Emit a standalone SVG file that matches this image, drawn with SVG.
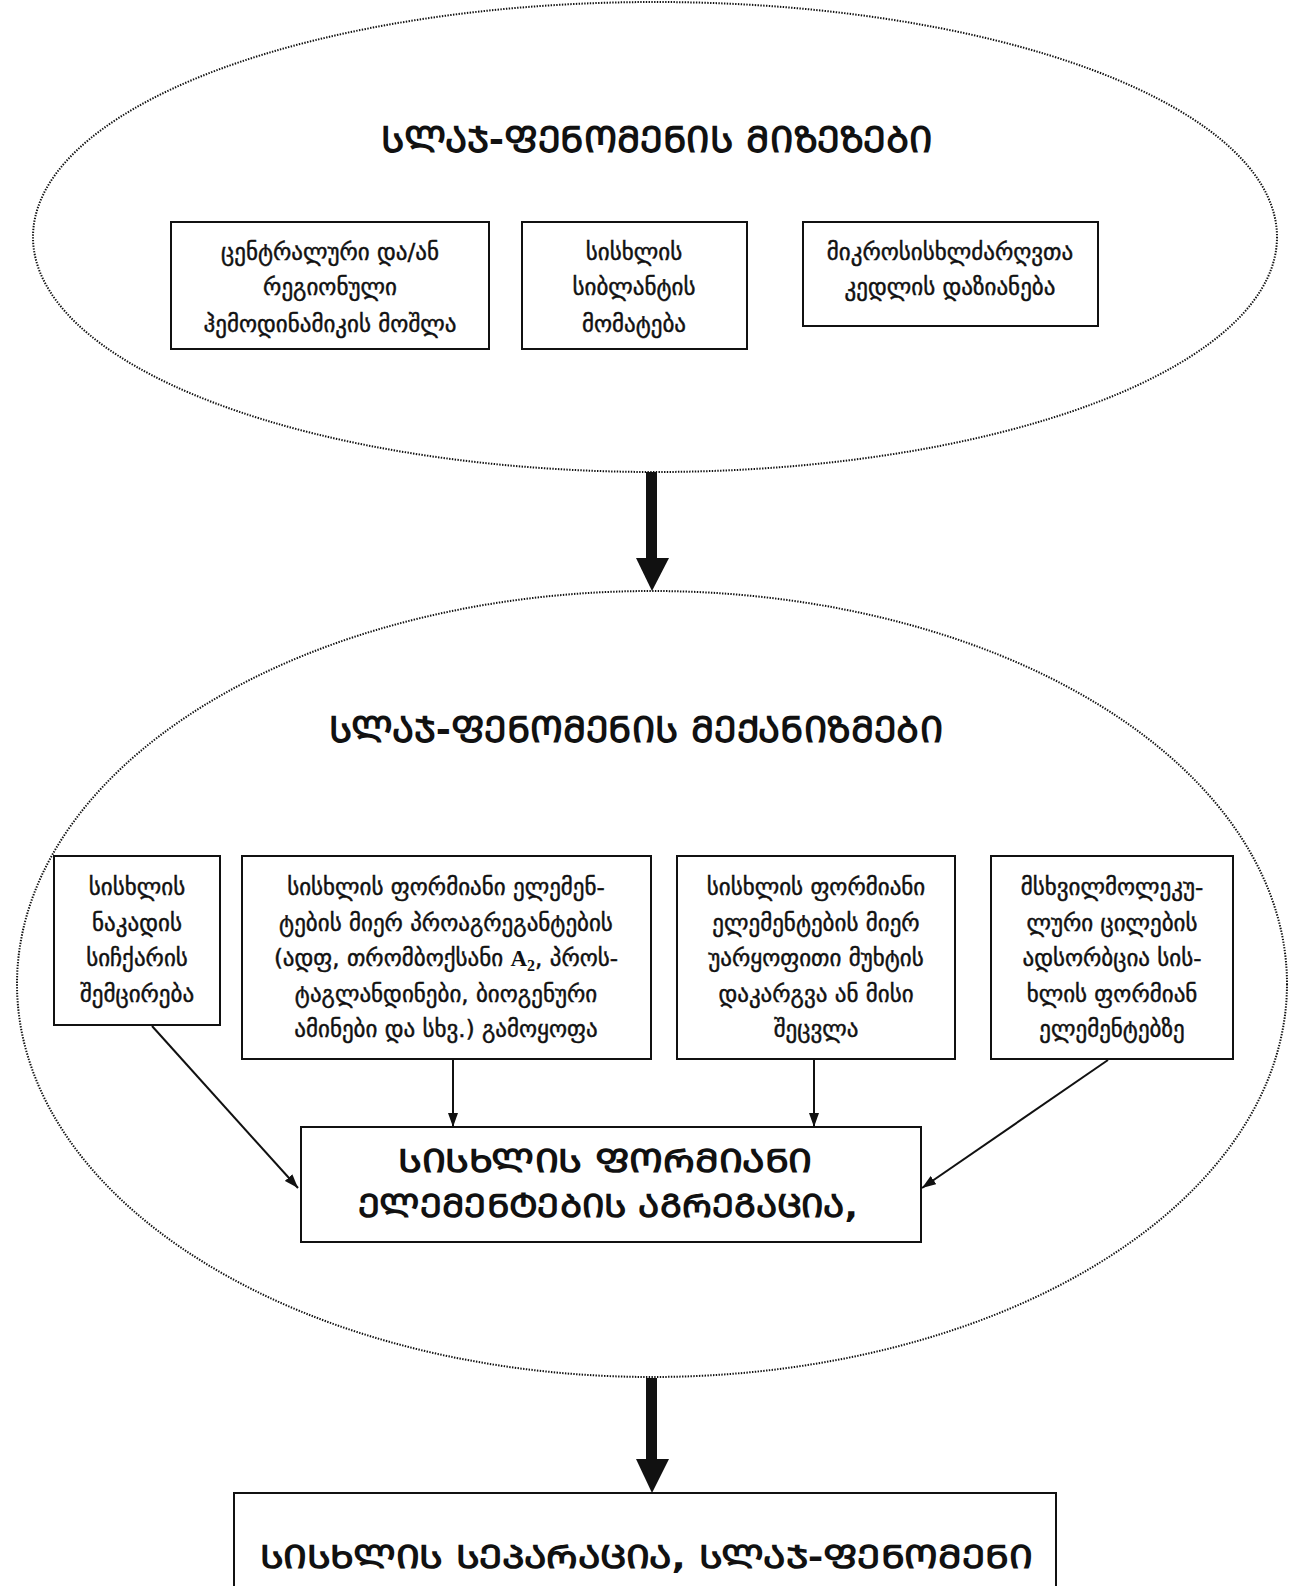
<svg xmlns="http://www.w3.org/2000/svg" width="1301" height="1586" viewBox="0 0 1301 1586">
  <style>
    .bg { fill: #ffffff; }
    .oval { fill: none; stroke: #111111; stroke-width: 2; stroke-dasharray: 1.4 1.4; }
    .box { fill: #ffffff; stroke: #111111; stroke-width: 2; }
    .body { font-family: "DejaVu Sans", "Noto Sans", sans-serif; font-size: 23px; fill: #111111; stroke: #111111; stroke-width: 0.45; text-anchor: middle; }
    .latin { font-family: "Liberation Serif", "DejaVu Serif", serif; font-weight: bold; stroke-width: 0; }
    .title { font-family: "DejaVu Sans", "Noto Sans", sans-serif; font-size: 36px; font-weight: bold; fill: #111111; text-anchor: middle; }
    .big { font-family: "DejaVu Sans", "Noto Sans", sans-serif; font-size: 32px; font-weight: bold; fill: #111111; text-anchor: middle; }
    .link { fill: none; stroke: #111111; stroke-width: 2; marker-end: url(#tip); }
    .thick { fill: #111111; }
  </style>
  <defs>
    <marker id="tip" viewBox="0 0 14 10" refX="14" refY="5" markerWidth="14" markerHeight="10" markerUnits="userSpaceOnUse" orient="auto">
      <path d="M0,0 L14,5 L0,10 Z" fill="#111111"/>
    </marker>
  </defs>

  <rect class="bg" x="0" y="0" width="1301" height="1586"/>

  <!-- causes -->
  <g id="causes">
    <ellipse class="oval" cx="655" cy="237" rx="622" ry="235"/>
    <text class="title" x="657" y="152" textLength="552" lengthAdjust="spacingAndGlyphs">ᲡᲚᲐᲯ-ᲤᲔᲜᲝᲛᲔᲜᲘᲡ ᲛᲘᲖᲔᲖᲔᲑᲘ</text>
  </g>
  <g id="cause-hemodynamics">
    <rect class="box" x="171" y="222" width="318" height="127"/>
    <text class="body" x="330" y="260">ცენტრალური და/ან</text>
    <text class="body" x="330" y="295">რეგიონული</text>
    <text class="body" x="330" y="332">ჰემოდინამიკის მოშლა</text>
  </g>
  <g id="cause-viscosity">
    <rect class="box" x="522" y="222" width="225" height="127"/>
    <text class="body" x="634" y="260">სისხლის</text>
    <text class="body" x="634" y="295">სიბლანტის</text>
    <text class="body" x="634" y="332">მომატება</text>
  </g>
  <g id="cause-vessel-wall">
    <rect class="box" x="803" y="222" width="295" height="104"/>
    <text class="body" x="950" y="260">მიკროსისხლძარღვთა</text>
    <text class="body" x="950" y="295">კედლის დაზიანება</text>
  </g>

  <!-- mechanisms -->
  <g id="mechanisms">
    <ellipse class="oval" cx="652" cy="984" rx="635" ry="393"/>
    <text class="title" x="636" y="742" textLength="614" lengthAdjust="spacingAndGlyphs">ᲡᲚᲐᲯ-ᲤᲔᲜᲝᲛᲔᲜᲘᲡ ᲛᲔᲥᲐᲜᲘᲖᲛᲔᲑᲘ</text>
  </g>
  <g id="mech-flow">
    <rect class="box" x="54" y="856" width="166" height="169"/>
    <text class="body" x="137" y="895">სისხლის</text>
    <text class="body" x="137" y="931">ნაკადის</text>
    <text class="body" x="137" y="966">სიჩქარის</text>
    <text class="body" x="137" y="1002">შემცირება</text>
  </g>
  <g id="mech-proaggregants">
    <rect class="box" x="242" y="856" width="409" height="203"/>
    <text class="body" x="446" y="895">სისხლის ფორმიანი ელემენ-</text>
    <text class="body" x="446" y="931">ტების მიერ პროაგრეგანტების</text>
    <text class="body" x="446" y="966">(ადფ, თრომბოქსანი <tspan class="latin">A</tspan><tspan class="latin" font-size="16" dy="5">2</tspan><tspan dy="-5">, პროს-</tspan></text>
    <text class="body" x="446" y="1002">ტაგლანდინები, ბიოგენური</text>
    <text class="body" x="446" y="1037">ამინები და სხვ.) გამოყოფა</text>
  </g>
  <g id="mech-charge">
    <rect class="box" x="677" y="856" width="278" height="203"/>
    <text class="body" x="816" y="895">სისხლის ფორმიანი</text>
    <text class="body" x="816" y="931">ელემენტების მიერ</text>
    <text class="body" x="816" y="966">უარყოფითი მუხტის</text>
    <text class="body" x="816" y="1002">დაკარგვა ან მისი</text>
    <text class="body" x="816" y="1037">შეცვლა</text>
  </g>
  <g id="mech-adsorption">
    <rect class="box" x="991" y="856" width="242" height="203"/>
    <text class="body" x="1112" y="895">მსხვილმოლეკუ-</text>
    <text class="body" x="1112" y="931">ლური ცილების</text>
    <text class="body" x="1112" y="966">ადსორბცია სის-</text>
    <text class="body" x="1112" y="1002">ხლის ფორმიან</text>
    <text class="body" x="1112" y="1037">ელემენტებზე</text>
  </g>
  <g id="aggregation">
    <rect class="box" x="301" y="1127" width="620" height="115"/>
    <text class="big" x="605" y="1172" textLength="414" lengthAdjust="spacingAndGlyphs">ᲡᲘᲡᲮᲚᲘᲡ ᲤᲝᲠᲛᲘᲐᲜᲘ</text>
    <text class="big" x="608" y="1217" textLength="500" lengthAdjust="spacingAndGlyphs">ᲔᲚᲔᲛᲔᲜᲢᲔᲑᲘᲡ ᲐᲒᲠᲔᲒᲐᲪᲘᲐ,</text>
  </g>

  <!-- outcome -->
  <g id="outcome">
    <rect class="box" x="234" y="1493" width="822" height="120"/>
    <text class="big" x="646" y="1568" textLength="772" lengthAdjust="spacingAndGlyphs">ᲡᲘᲡᲮᲚᲘᲡ ᲡᲔᲞᲐᲠᲐᲪᲘᲐ, ᲡᲚᲐᲯ-ᲤᲔᲜᲝᲛᲔᲜᲘ</text>
  </g>

  <!-- connectors -->
  <g id="connectors">
    <rect class="thick" x="646" y="472" width="11" height="87"/>
    <polygon class="thick" points="636,558 669,558 652,591"/>
    <rect class="thick" x="646" y="1378" width="11" height="82"/>
    <polygon class="thick" points="636,1459 669,1459 652,1493"/>
    <line class="link" x1="152" y1="1026" x2="298" y2="1188"/>
    <line class="link" x1="453" y1="1060" x2="453" y2="1127"/>
    <line class="link" x1="814" y1="1060" x2="814" y2="1127"/>
    <line class="link" x1="1108" y1="1060" x2="922" y2="1188"/>
  </g>
</svg>
